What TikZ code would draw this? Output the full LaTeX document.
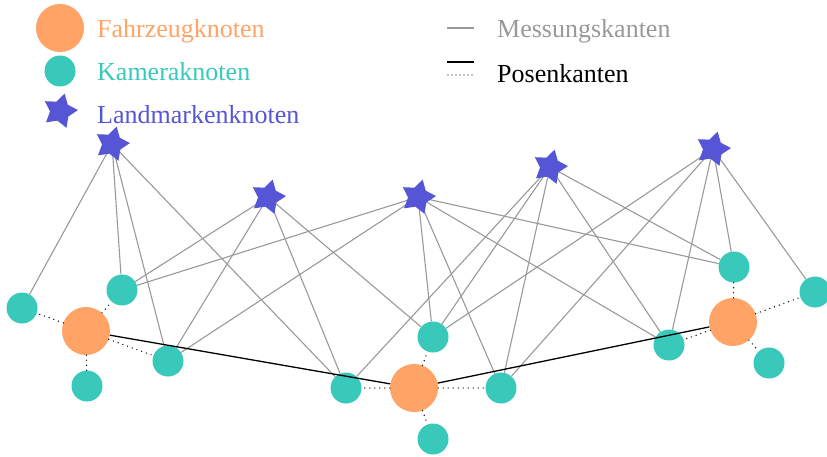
\documentclass[tikz,border=0pt]{standalone}
\usepackage{fontspec}
\setmainfont{Liberation Serif}
\usetikzlibrary{shapes.geometric,backgrounds}
\definecolor{vcol}{HTML}{FFA366}
\definecolor{ccol}{HTML}{38C9BA}
\definecolor{lcol}{HTML}{5555D5}
\definecolor{mcol}{HTML}{999999}
\begin{document}
\begin{tikzpicture}[x=1pt,y=-1pt,
  veh/.style={circle,fill=vcol,minimum size=48pt,inner sep=0pt},
  cam/.style={circle,fill=ccol,minimum size=31pt,inner sep=0pt},
  lm/.style={star,star points=5,star point ratio=1.8,fill=lcol,minimum size=36pt,inner sep=0pt,shape border rotate=-15},
  meas/.style={draw=mcol,line width=1.1pt},
  pose/.style={draw=black,line width=1.3pt},
  posedot/.style={draw=black,line width=1.4pt,dash pattern=on 0pt off 5pt,line cap=round},
  lab/.style={anchor=base west,font=\fontsize{26}{30}\selectfont,inner sep=0pt}]
\useasboundingbox (0,0) rectangle (827,456);

% legend
\node[veh] (lv) at (60,28) {};
\node[cam] (lc) at (60,71) {};
\node[lm] (ll) at (60,111) {};
\node[lab,text=vcol] (tv) at (97,37) {Fahrzeugknoten};
\node[lab,text=ccol] (tc) at (97,80) {Kameraknoten};
\node[lab,text=lcol] (tl) at (97,123) {Landmarkenknoten};
\coordinate (m1) at (447,28); \coordinate (m2) at (474,28);
\coordinate (p1) at (447,62); \coordinate (p2) at (474,62);
\coordinate (d1) at (448,75); \coordinate (d2) at (474,75);
\draw[meas] (m1) -- (m2);
\draw[pose] (p1) -- (p2);
\draw[posedot,line width=1.1pt,dash pattern=on 0pt off 4pt] (d1) -- (d2);
\node[lab,text=mcol] (tm) at (497,37) {Messungskanten};
\node[lab,text=black] (tp) at (497,82) {Posenkanten};

% vehicle nodes
\node[veh] (V1) at (86,331) {};
\node[veh] (V2) at (414,388) {};
\node[veh] (V3) at (733,322) {};
% camera nodes
\node[cam] (C1a) at (22,308) {};
\node[cam] (C1b) at (122,290) {};
\node[cam] (C1c) at (168,361) {};
\node[cam] (C1d) at (87,386) {};
\node[cam] (C2a) at (346,388) {};
\node[cam] (C2b) at (433,337) {};
\node[cam] (C2c) at (501,388) {};
\node[cam] (C2d) at (433,439) {};
\node[cam] (C3a) at (669,345) {};
\node[cam] (C3b) at (734,267) {};
\node[cam] (C3c) at (815,292) {};
\node[cam] (C3d) at (769,363) {};
% landmarks
\node[lm] (L1) at (112,144) {};
\node[lm] (L2) at (268,197) {};
\node[lm] (L3) at (418,197) {};
\node[lm] (L4) at (550,167) {};
\node[lm] (L5) at (713,149) {};

% measurement edges (behind the nodes)
\begin{pgfonlayer}{background}
\foreach \l/\c in {L1/C1a,L1/C1b,L1/C1c,L1/C2a,
                   L2/C1b,L2/C1c,L2/C2a,L2/C2b,
                   L3/C1b,L3/C1c,L3/C2b,L3/C2c,L3/C3a,L3/C3b,
                   L4/C2a,L4/C2b,L4/C2c,L4/C3a,L4/C3b,
                   L5/C2b,L5/C2c,L5/C3a,L5/C3b,L5/C3c}
  \draw[meas] (\l.center) -- (\c);
\end{pgfonlayer}

% pose edges
\draw[pose] (V1) -- (V2);
\draw[pose] (V2) -- (V3);
\foreach \v/\c in {V1/C1a,V1/C1b,V1/C1c,V1/C1d,
                   V2/C2a,V2/C2b,V2/C2c,V2/C2d,
                   V3/C3a,V3/C3b,V3/C3c,V3/C3d}
  \draw[posedot] (\v) -- (\c);
\end{tikzpicture}
\end{document}
